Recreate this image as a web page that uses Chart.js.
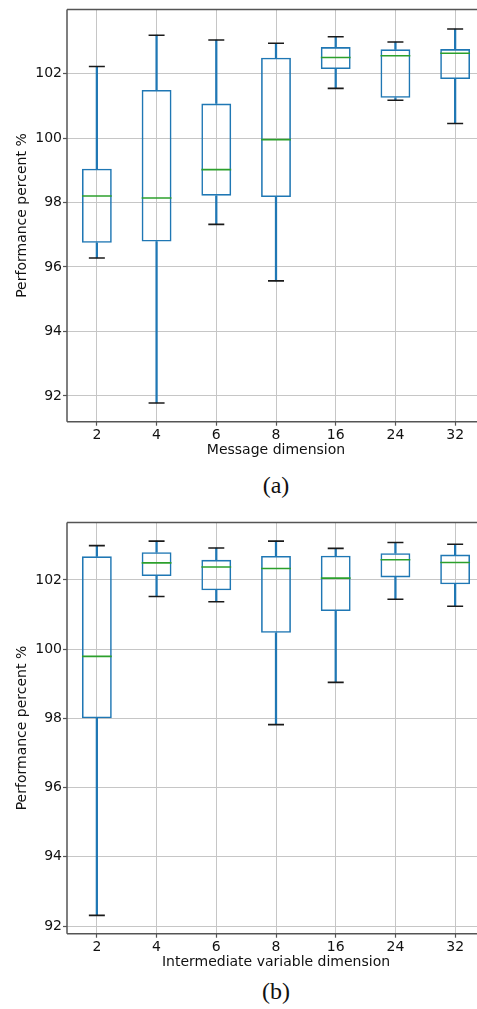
<!DOCTYPE html>
<html>
<head>
<meta charset="utf-8">
<script src="https://cdn.jsdelivr.net/npm/chart.js@4/dist/chart.umd.min.js"></script>
<style>
  html, body { margin: 0; padding: 0; background: #fff; overflow: hidden; width: 477px; height: 1009px; }
  #wrap { position: relative; width: 477px; height: 1009px; overflow: hidden; }
  canvas { position: absolute; left: 0; }
  .cap { position: absolute; left: 226px; width: 100px; text-align: center; font-family: "Liberation Serif", "Times New Roman", serif; font-size: 24px; line-height: 24px; color: #111; }
</style>
</head>
<body>
<div id="wrap">
  <canvas id="ca" width="486" height="460" style="top:0px"></canvas>
  <div class="cap" style="top:472.6px">(a)</div>
  <canvas id="cb" width="486" height="459" style="top:513px"></canvas>
  <div class="cap" style="top:979.2px">(b)</div>
</div>
<script>
// ---- data ----
const categories = ['2', '4', '6', '8', '16', '24', '32'];
const yTickValues = [92, 94, 96, 98, 100, 102];

// (a) Message dimension
const aLow    = [96.28, 91.78, 97.32, 95.57, 101.54, 101.17, 100.45];
const aQ1     = [96.75, 96.79, 98.21, 98.17, 102.14, 101.25, 101.83];
const aMedian = [98.20, 98.14, 99.02, 99.95, 102.50, 102.55, 102.63];
const aQ3     = [99.05, 101.49, 101.07, 102.49, 102.82, 102.75, 102.76];
const aHigh   = [102.22, 103.19, 103.04, 102.94, 103.14, 102.98, 103.38];
const aYRange = [91.2, 103.99];

// (b) Intermediate variable dimension
const bLow    = [92.31, 101.52, 101.37, 97.82, 99.04, 101.44, 101.24];
const bQ1     = [98.00, 102.11, 101.70, 100.47, 101.10, 102.07, 101.87];
const bMedian = [99.79, 102.49, 102.37, 102.33, 102.05, 102.58, 102.50];
const bQ3     = [102.68, 102.80, 102.58, 102.69, 102.70, 102.77, 102.73];
const bHigh   = [102.99, 103.12, 102.92, 103.12, 102.91, 103.08, 103.03];
const bYRange = [91.78, 103.66];

// ---- styling ----
const BLUE = '#1f77b4', GREEN = '#2ca02c', CAP = '#1a1a1a';
const SPINE = '#555555', GRID = '#c6c6c6', TEXT = '#111111';
const FONT = "'DejaVu Sans', sans-serif";

const spinePlugin = {
  id: 'spines',
  afterDatasetsDraw(chart) {
    const { ctx, chartArea: a } = chart;
    ctx.save();
    ctx.strokeStyle = SPINE;
    ctx.lineWidth = 1.5;
    ctx.beginPath();
    ctx.moveTo(a.left, a.top); ctx.lineTo(a.right, a.top);
    ctx.moveTo(a.left, a.top); ctx.lineTo(a.left, a.bottom);
    ctx.moveTo(a.left, a.bottom); ctx.lineTo(a.right, a.bottom);
    ctx.moveTo(a.right, a.top); ctx.lineTo(a.right, a.bottom);
    ctx.stroke();
    ctx.restore();
  }
};

function makeChart(id, low, q1, med, q3, high, yRange, xTitle) {
  const datasets = [
    { type: 'bar', data: low.map((v, i) => [v, q1[i]]), backgroundColor: BLUE, borderWidth: 0,
      barThickness: 1.6, grouped: false, order: 5 },
    { type: 'bar', data: q3.map((v, i) => [v, high[i]]), backgroundColor: BLUE, borderWidth: 0,
      barThickness: 1.6, grouped: false, order: 5 },
    { type: 'bar', data: q1.map((v, i) => [v, q3[i]]), backgroundColor: 'rgba(0,0,0,0)',
      borderColor: BLUE, borderWidth: 1.6, borderSkipped: false,
      barPercentage: 0.5, categoryPercentage: 1.0, grouped: false, order: 4 },
    { type: 'line', data: med, showLine: false, pointStyle: 'line', pointRadius: 14.9,
      pointBorderColor: GREEN, pointBorderWidth: 1.6, borderColor: GREEN, order: 1 },
    { type: 'line', data: high, showLine: false, pointStyle: 'line', pointRadius: 8,
      pointBorderColor: CAP, pointBorderWidth: 1.6, borderColor: CAP, order: 2 },
    { type: 'line', data: low, showLine: false, pointStyle: 'line', pointRadius: 8,
      pointBorderColor: CAP, pointBorderWidth: 1.6, borderColor: CAP, order: 2 }
  ];
  return new Chart(document.getElementById(id), {
    type: 'bar',
    data: { labels: categories, datasets },
    options: {
      responsive: false,
      devicePixelRatio: 1,
      animation: false,
      events: [],
      layout: { autoPadding: false, padding: { top: 6, right: 1, bottom: 0, left: 0 } },
      plugins: { legend: { display: false }, tooltip: { enabled: false } },
      scales: {
        x: {
          type: 'category',
          offset: true,
          grid: { offset: false, color: GRID, lineWidth: 1, drawTicks: true, tickLength: 4, tickColor: SPINE, tickWidth: 1.2 },
          border: { display: false },
          ticks: { color: TEXT, font: { family: FONT, size: 14 }, padding: 1, maxRotation: 0 },
          title: { display: true, text: xTitle, color: TEXT, font: { family: FONT, size: 14 }, padding: { top: 0, bottom: 1 } },
          afterFit(s) { s.height = 38.3; }
        },
        y: {
          type: 'linear',
          min: yRange[0],
          max: yRange[1],
          afterBuildTicks(s) { s.ticks = yTickValues.map(v => ({ value: v })); },
          grid: { color: GRID, lineWidth: 1, drawTicks: true, tickLength: 4, tickColor: SPINE, tickWidth: 1.2 },
          border: { display: false },
          ticks: { color: TEXT, font: { family: FONT, size: 14 }, padding: 1, callback: v => String(v) },
          title: { display: true, text: 'Performance percent %', color: TEXT, font: { family: FONT, size: 14 }, padding: { top: 13.6, bottom: 0 } },
          afterFit(s) { s.width = 67; }
        }
      }
    },
    plugins: [spinePlugin]
  });
}

makeChart('ca', aLow, aQ1, aMedian, aQ3, aHigh, aYRange, 'Message dimension');
makeChart('cb', bLow, bQ1, bMedian, bQ3, bHigh, bYRange, 'Intermediate variable dimension');
</script>
</body>
</html>
